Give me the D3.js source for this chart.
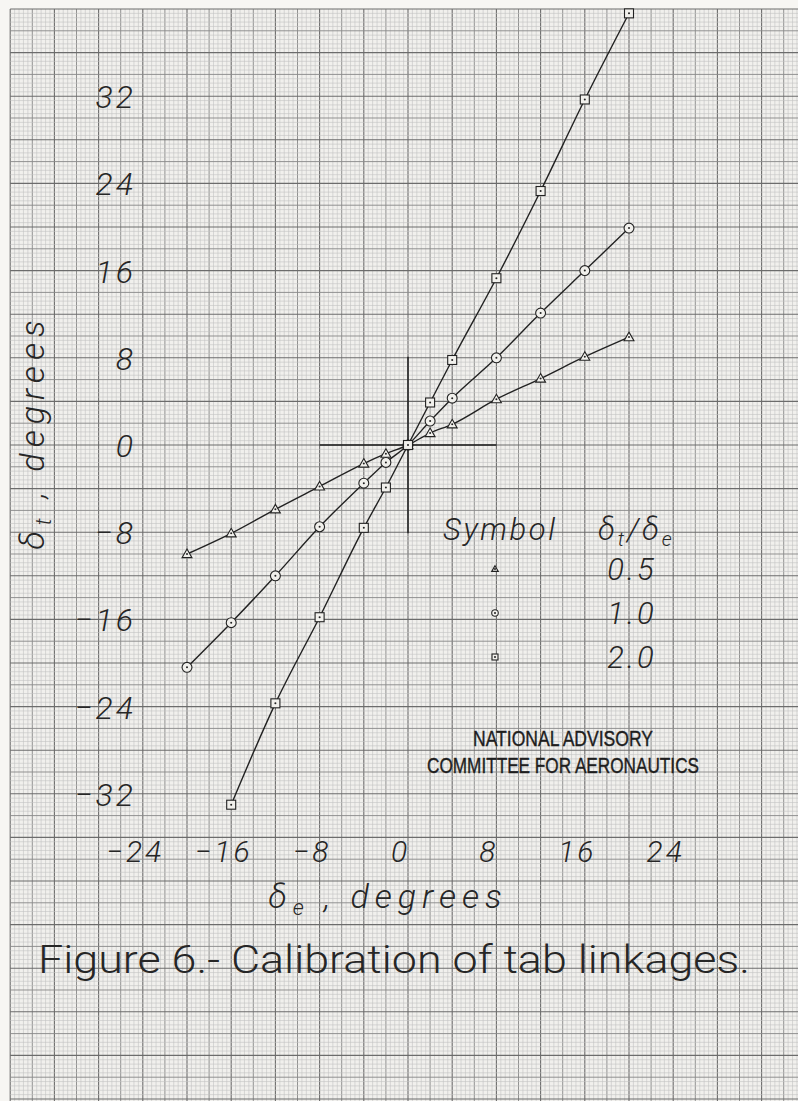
<!DOCTYPE html>
<html>
<head>
<meta charset="utf-8">
<script src="https://cdn.jsdelivr.net/npm/d3@7"></script>
<style>
  html, body { margin: 0; padding: 0; background: #f3f2ef; }
  svg { display: block; }
  .hand { font-family: Roboto, "DejaVu Sans", sans-serif; font-weight: 300; fill: #262626; }
</style>
</head>
<body>
<div id="chart"></div>
<script>
const width = 798
const height = 1101

// readings, degrees
const triX = [-20, -16, -12, -8, -4, -2, 0, 2, 4, 8, 12, 16, 20]
const triY = [-10, -8.1, -5.9, -3.8, -1.7, -0.8, 0, 1.1, 1.9, 4.2, 6.1, 8.1, 9.9]
const cirX = [-20, -16, -12, -8, -4, -2, 0, 2, 4, 8, 12, 16, 20]
const cirY = [-20.4, -16.3, -12, -7.5, -3.5, -1.6, 0, 2.2, 4.3, 8, 12.1, 16, 19.9]
const sqX = [-16, -12, -8, -4, -2, 0, 2, 4, 8, 12, 16, 20]
const sqY = [-33, -23.7, -15.8, -7.6, -3.9, 0, 3.9, 7.8, 15.3, 23.3, 31.7, 39.6]

const ratios = ['0.5', '1.0', '2.0']
const symbols = ['triangle', 'circle', 'square']
const xTicks = [-24, -16, -8, 0, 8, 16, 24]
const yTicks = [-32, -24, -16, -8, 0, 8, 16, 24, 32]

const series = [
  {sym: 'triangle', pts: triX.map((x, i) => [x, triY[i]])},
  {sym: 'circle', pts: cirX.map((x, i) => [x, cirY[i]])},
  {sym: 'square', pts: sqX.map((x, i) => [x, sqY[i]])}
]

// graph paper: 0.4 deg small squares, 2 deg medium, 4 deg heavy
const x = d3.scaleLinear().domain([-36, 36]).range([408 - 36 * 11.05, 408 + 36 * 11.05])
const y = d3.scaleLinear().domain([40, -60]).range([445 - 40 * 10.9, 445 + 60 * 10.9])

const svg = d3.select('#chart').append('svg')
  .attr('width', width)
  .attr('height', height)

svg.append('rect').attr('width', width).attr('height', height).attr('fill', '#f7f6f3')
svg.append('rect')
  .attr('x', x(-36)).attr('y', y(40))
  .attr('width', width - x(-36)).attr('height', height - y(40))
  .attr('fill', '#f1f0ed')

const grid = svg.append('g')
const vIdx = d3.range(-90, 90)
const hIdx = d3.range(-150, 101)
const gridStyle = i => i % 10 === 0 ? ['#6c6c6c', 1.1] : i % 5 === 0 ? ['#8c8c8c', 0.95] : ['#c3c3c3', 0.6]

grid.selectAll('line.v').data(vIdx).enter().append('line')
  .attr('class', 'v')
  .attr('x1', i => x(i * 0.4)).attr('x2', i => x(i * 0.4))
  .attr('y1', y(40)).attr('y2', height)
  .attr('stroke', i => gridStyle(i)[0])
  .attr('stroke-width', i => gridStyle(i)[1])

grid.selectAll('line.h').data(hIdx).enter().append('line')
  .attr('class', 'h')
  .attr('y1', i => y(i * 0.4)).attr('y2', i => y(i * 0.4))
  .attr('x1', x(-36)).attr('x2', width)
  .attr('stroke', i => gridStyle(i)[0])
  .attr('stroke-width', i => gridStyle(i)[1])

// short cross at the origin
svg.append('line')
  .attr('x1', x(-8)).attr('x2', x(8)).attr('y1', y(0)).attr('y2', y(0))
  .attr('stroke', '#1e1e1e').attr('stroke-width', 1.5)
svg.append('line')
  .attr('x1', x(0)).attr('x2', x(0)).attr('y1', y(8.1)).attr('y2', y(-8.1))
  .attr('stroke', '#1e1e1e').attr('stroke-width', 1.5)

// tick labels
const fmt = d => (d < 0 ? '\u2212' : '') + Math.abs(d)

const yAxis = svg.append('g')
  .attr('transform', 'translate(136,0)')
  .call(d3.axisLeft(y).tickValues(yTicks).tickSize(0).tickPadding(0).tickFormat(fmt))
yAxis.select('.domain').remove()
yAxis.selectAll('text')
  .attr('class', 'hand')
  .attr('font-size', 32)
  .attr('font-style', 'italic')
  .attr('letter-spacing', 3)
  .attr('dy', '0.36em')

const xAxis = svg.append('g')
  .attr('transform', 'translate(-8,838)')
  .call(d3.axisBottom(x).tickValues(xTicks).tickSize(0).tickPadding(0).tickFormat(fmt))
xAxis.select('.domain').remove()
xAxis.selectAll('text')
  .attr('class', 'hand')
  .attr('font-size', 30)
  .attr('font-style', 'italic')
  .attr('letter-spacing', 3)
  .attr('dy', '0.8em')

// curves
const line = d3.line().x(d => x(d[0])).y(d => y(d[1])).curve(d3.curveMonotoneX)

svg.append('g').selectAll('path').data(series).enter().append('path')
  .attr('d', d => line(d.pts))
  .attr('fill', 'none')
  .attr('stroke', '#222')
  .attr('stroke-width', 1.4)

function marker(g, sym, s) {
  if (sym === 'circle') {
    g.append('circle').attr('r', s * 0.55)
  } else if (sym === 'square') {
    g.append('rect').attr('x', -s / 2).attr('y', -s / 2).attr('width', s).attr('height', s)
  } else {
    g.append('path').attr('d', `M0,${-s * 0.55}L${s * 0.55},${s * 0.4}L${-s * 0.55},${s * 0.4}Z`)
  }
  g.selectAll('circle,rect,path').attr('fill', '#f1f0ec').attr('stroke', '#222').attr('stroke-width', 1.1)
  g.append('circle').attr('r', 1).attr('fill', '#222')
}

series.forEach(sr => {
  sr.pts.forEach(p => {
    const g = svg.append('g').attr('transform', `translate(${x(p[0])},${y(p[1])})`)
    marker(g, sr.sym, 9)
  })
})

// legend
svg.append('text').attr('class', 'hand')
  .attr('x', 443).attr('y', 540)
  .attr('font-size', 31).attr('font-style', 'italic')
  .attr('textLength', 112).attr('lengthAdjust', 'spacing')
  .text('Symbol')
const hdr = svg.append('text').attr('class', 'hand')
  .attr('x', 598).attr('y', 540)
  .attr('font-size', 31).attr('font-style', 'italic')
  .attr('letter-spacing', 3)
hdr.append('tspan').text('\u03b4')
hdr.append('tspan').attr('font-size', 20).attr('dy', 6).text('t')
hdr.append('tspan').attr('dy', -6).text('/\u03b4')
hdr.append('tspan').attr('font-size', 20).attr('dy', 6).text('e')

const legendY = [569, 613, 657]
ratios.forEach((r, i) => {
  const g = svg.append('g').attr('transform', `translate(495,${legendY[i]})`)
  marker(g, symbols[i], 6)
  svg.append('text').attr('class', 'hand')
    .attr('x', 632).attr('y', legendY[i] + 11)
    .attr('text-anchor', 'middle')
    .attr('font-size', 31).attr('font-style', 'italic')
    .attr('letter-spacing', 3)
    .text(r)
})

// axis titles
const yt = svg.append('text').attr('class', 'hand')
  .attr('transform', 'translate(44,432) rotate(-90)')
  .attr('text-anchor', 'middle')
  .attr('font-size', 34).attr('font-style', 'italic')
  .attr('letter-spacing', 6)
yt.append('tspan').text('\u03b4')
yt.append('tspan').attr('font-size', 22).attr('dy', 7).text('t')
yt.append('tspan').attr('dy', -7).text(' , degrees')

const xt = svg.append('text').attr('class', 'hand')
  .attr('x', 388).attr('y', 908)
  .attr('text-anchor', 'middle')
  .attr('font-size', 34).attr('font-style', 'italic')
  .attr('letter-spacing', 6)
xt.append('tspan').text('\u03b4')
xt.append('tspan').attr('font-size', 22).attr('dy', 7).text('e')
xt.append('tspan').attr('dy', -7).text(' , degrees')

// caption
svg.append('text').attr('class', 'hand')
  .attr('x', 38).attr('y', 973)
  .attr('font-size', 38)
  .attr('textLength', 712).attr('lengthAdjust', 'spacingAndGlyphs')
  .text('Figure 6.- Calibration of tab linkages.')

// agency stamp
const stamp = ['NATIONAL ADVISORY', 'COMMITTEE FOR AERONAUTICS']
const stampLen = [180, 272]
stamp.forEach((t, i) => {
  svg.append('text')
    .attr('x', 563).attr('y', 746 + i * 27)
    .attr('text-anchor', 'middle')
    .attr('font-family', '"Liberation Sans Narrow", "Liberation Sans", sans-serif')
    .attr('font-size', 22)
    .attr('fill', '#1e1e1e')
    .attr('stroke', '#1e1e1e').attr('stroke-width', 0.4)
    .attr('textLength', stampLen[i]).attr('lengthAdjust', 'spacingAndGlyphs')
    .text(t)
})
</script>
</body>
</html>
